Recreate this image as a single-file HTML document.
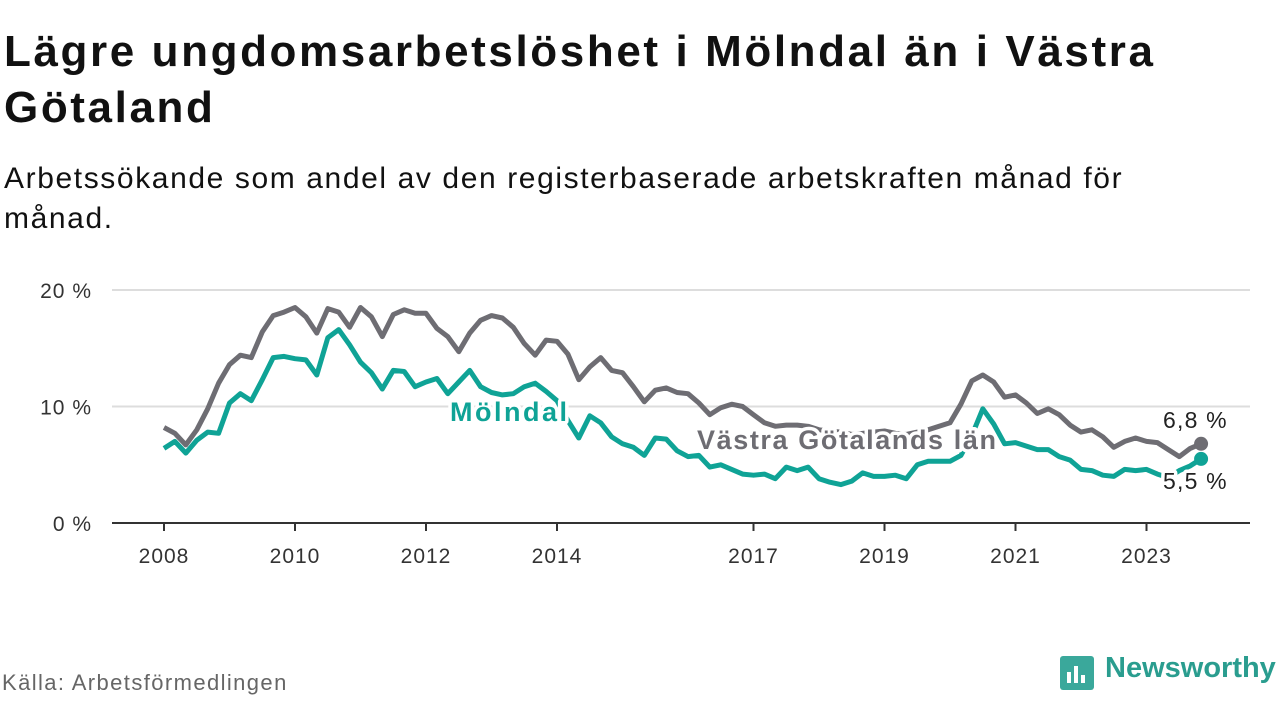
<!DOCTYPE html>
<html><head><meta charset="utf-8"><style>
body{margin:0;width:1280px;height:720px;background:#fff;font-family:"Liberation Sans",sans-serif;overflow:hidden;position:relative}
.t{position:absolute;left:4px;top:24px;font-size:44px;font-weight:bold;color:#111;line-height:56px;width:1185px;letter-spacing:2.6px}
.s{position:absolute;left:4px;top:159px;font-size:30px;color:#111;line-height:40px;width:1175px;letter-spacing:1.6px}
.src{position:absolute;left:2px;top:670px;font-size:22px;color:#666;letter-spacing:1.4px}
.logo{position:absolute;left:1105px;top:652px;font-size:29px;font-weight:bold;color:#2a9d8f}
</style></head><body>
<div class="t">Lägre ungdomsarbetslöshet i Mölndal än i Västra Götaland</div>
<div class="s">Arbetssökande som andel av den registerbaserade arbetskraften månad för månad.</div>
<svg width="1280" height="720" style="position:absolute;left:0;top:0" id="c"></svg>
<div class="src">Källa: Arbetsförmedlingen</div>
<svg width="34" height="34" style="position:absolute;left:1060px;top:656px"><rect width="34" height="34" rx="3" fill="#3aa89b"/><rect x="7" y="16" width="4" height="11" fill="#fff"/><rect x="14" y="10" width="4" height="17" fill="#fff"/><rect x="21" y="19" width="4" height="8" fill="#fff"/></svg>
<div class="logo">Newsworthy</div>
<script>
const stepMonths = 2;
const vgValues = [8.2,7.7,6.7,8.0,9.8,12.0,13.6,14.4,14.2,16.4,17.8,18.1,18.5,17.7,16.3,18.4,18.1,16.8,18.5,17.7,16.0,17.9,18.3,18.0,18.0,16.7,16.0,14.7,16.3,17.4,17.8,17.6,16.8,15.4,14.4,15.7,
15.6,14.5,12.3,13.4,14.2,13.1,12.9,11.7,10.4,11.4,11.6,11.2,11.1,10.3,9.3,9.9,10.2,10.0,9.3,8.6,8.3,8.4,8.4,8.3,8.0,7.9,7.8,7.6,7.7,7.8,7.9,7.7,7.6,7.8,8.0,8.3,8.6,10.2,12.2,12.7,12.1,10.8,11.0,10.3,9.4,9.8,9.3,8.4,7.8,8.0,7.4,6.5,7.0,7.3,7.0,6.9,6.3,5.7,6.4,6.8];
const molValues = [6.4,7.0,6.0,7.1,7.8,7.7,10.3,11.1,10.5,12.3,14.2,14.3,14.1,14.0,12.7,15.9,16.6,15.3,13.8,12.9,11.5,13.1,13.0,11.7,12.1,12.4,11.1,12.1,13.1,11.7,
11.2,11.0,11.1,11.7,12.0,11.3,10.5,8.8,7.3,9.2,8.6,7.4,6.8,6.5,5.8,7.3,7.2,6.2,5.7,5.8,4.8,5.0,4.6,4.2,4.1,4.2,3.8,4.8,4.5,4.8,3.8,3.5,3.3,3.6,4.3,4.0,4.0,4.1,3.8,5.0,5.3,5.3,5.3,5.8,7.5,9.8,8.5,6.8,6.9,6.6,6.3,6.3,5.7,5.4,4.6,4.5,4.1,4.0,4.6,4.5,4.6,4.2,3.9,4.5,4.9,5.5];
const yTicks = [0,10,20];
const yTickLabels = ["0 %","10 %","20 %"];
const xTicks = [2008,2010,2012,2014,2017,2019,2021,2023];
const lastLabels = ["6,8 %","5,5 %"];

const NS="http://www.w3.org/2000/svg", svg=document.getElementById('c');
const x = m => 164 + m*(65.5/12);
const xYear = yr => x((yr-2008)*12);
const y = v => 523 - v*11.65;
function el(t,a,txt){const e=document.createElementNS(NS,t);for(const k in a)e.setAttribute(k,a[k]);if(txt!=null)e.textContent=txt;svg.appendChild(e);return e;}
yTicks.forEach((v,i)=>{
  if(v>0){const g=el('line',{x1:112,x2:1250,y1:y(v),y2:y(v),stroke:'#ddd','stroke-width':2});
  
  }
  const t=el('text',{x:92,y:y(v)+8,'text-anchor':'end','font-size':21,fill:'#333','letter-spacing':1},yTickLabels[i]);
  
  
});
xTicks.forEach(yr=>{
  const l=el('line',{x1:xYear(yr),x2:xYear(yr),y1:523,y2:531,stroke:'#333','stroke-width':2});
  
  
  const t=el('text',{x:xYear(yr),y:563,'text-anchor':'middle','font-size':21,fill:'#333','letter-spacing':1},yr);
  
  
});
const ax=el('line',{x1:112,x2:1250,y1:523,y2:523,stroke:'#333','stroke-width':2});


function path(vals,col,name){
  const d=vals.map((v,i)=>(i?'L':'M')+x(i*stepMonths).toFixed(1)+','+y(v).toFixed(1)).join('');
  const p=el('path',{d:d,fill:'none',stroke:col,'stroke-width':5,'stroke-linejoin':'round'});
  
  
}
path(vgValues,'#6e6d73','vastra-gotaland-line');
path(molValues,'#0fa396','molndal-line');
function lab(tx,xx,yy,col,name,sz,bold,ls){
  const t=el('text',{x:xx,y:yy,'font-size':sz,'font-weight':bold?'bold':'normal',fill:col,stroke:'#fff','stroke-width':7,'paint-order':'stroke','stroke-linejoin':'round','letter-spacing':ls},tx);
  
  
}
lab('Mölndal',450,421,'#0fa396','molndal-label',27,true,2.5);
lab('Västra Götalands län',697,449,'#6e6d73','vastra-gotaland-label',27,true,1.6);
const nL=vgValues.length-1, nM=molValues.length-1;
const d1=el('circle',{cx:x(nL*stepMonths),cy:y(vgValues[nL]),r:7,fill:'#6e6d73'});


const d2=el('circle',{cx:x(nM*stepMonths),cy:y(molValues[nM]),r:7,fill:'#0fa396'});


lab(lastLabels[0],1163,y(vgValues[nL])-16,'#222','vastra-gotaland-end-label',23,false,1.2);
lab(lastLabels[1],1163,y(molValues[nM])+30,'#222','molndal-end-label',23,false,1.2);
</script>
</body></html>
